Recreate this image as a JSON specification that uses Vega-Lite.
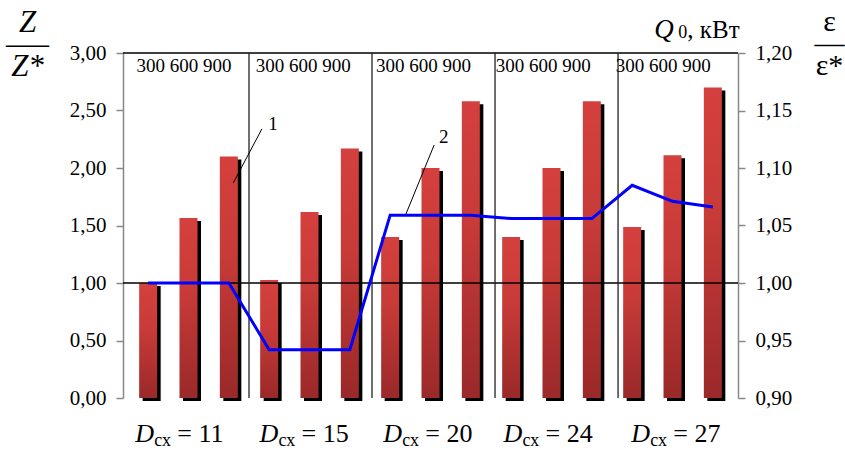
{
  "$schema": "https://vega.github.io/schema/vega-lite/v6.json",
  "width": 615,
  "height": 345,
  "autosize": "none",
  "padding": {"left": 123, "top": 53, "right": 107, "bottom": 52},
  "background": "white",
  "config": {"view": {"stroke": null}, "font": "Liberation Serif", "axis": {"grid": false}},
  "datasets": {
    "bars": [
      {"n": 1, "D": 11, "Q": 300, "Z": 1.0, "eps": 1.0},
      {"n": 2, "D": 11, "Q": 600, "Z": 1.565, "eps": 1.0},
      {"n": 3, "D": 11, "Q": 900, "Z": 2.1, "eps": 1.0},
      {"n": 4, "D": 15, "Q": 300, "Z": 1.026, "eps": 0.942},
      {"n": 5, "D": 15, "Q": 600, "Z": 1.617, "eps": 0.942},
      {"n": 6, "D": 15, "Q": 900, "Z": 2.17, "eps": 0.942},
      {"n": 7, "D": 20, "Q": 300, "Z": 1.4, "eps": 1.059},
      {"n": 8, "D": 20, "Q": 600, "Z": 2.0, "eps": 1.059},
      {"n": 9, "D": 20, "Q": 900, "Z": 2.58, "eps": 1.059},
      {"n": 10, "D": 24, "Q": 300, "Z": 1.4, "eps": 1.056},
      {"n": 11, "D": 24, "Q": 600, "Z": 2.0, "eps": 1.056},
      {"n": 12, "D": 24, "Q": 900, "Z": 2.58, "eps": 1.056},
      {"n": 13, "D": 27, "Q": 300, "Z": 1.487, "eps": 1.085},
      {"n": 14, "D": 27, "Q": 600, "Z": 2.11, "eps": 1.071},
      {"n": 15, "D": 27, "Q": 900, "Z": 2.7, "eps": 1.066}
    ],
    "groups": [
      {"D": "11", "eq": "= 11", "t": 0.71, "l": 0.68},
      {"D": "15", "eq": "= 15", "t": 3.67, "l": 3.76},
      {"D": "20", "eq": "= 20", "t": 6.65, "l": 6.83},
      {"D": "24", "eq": "= 24", "t": 9.62, "l": 9.81},
      {"D": "27", "eq": "= 27", "t": 12.59, "l": 12.98}
    ],
    "sep": [{"s": 3.5}, {"s": 6.55}, {"s": 9.6}, {"s": 12.65}],
    "hlines": [{"h": 1, "w": 1.3}, {"h": 3, "w": 1.5}],
    "leaders": [
      {"k": "1", "x": 3.11, "y": 1.87, "x2": 3.82, "y2": 2.34, "tx": 3.98, "ty": 2.33},
      {"k": "2", "x": 7.38, "y": 1.59, "x2": 8.09, "y2": 2.2, "tx": 8.21, "ty": 2.217}
    ],
    "unit": [{"q": "Q", "sub": "0", "u": ", кВт", "x": 13.55, "y": 3.13}]
  },
  "layer": [
    {
      "data": {"name": "bars"},
      "mark": {"type": "bar", "width": 18, "color": "black", "xOffset": 3.5, "yOffset": 3},
      "encoding": {
        "x": {"field": "n", "type": "quantitative", "scale": {"domain": [0.5, 15.5], "nice": false, "zero": false},
          "axis": {"title": null, "labels": false, "ticks": false, "domainColor": "#888", "domainWidth": 1.5, "grid": false}},
        "y": {"field": "Z", "type": "quantitative", "scale": {"domain": [0, 3], "nice": false},
          "axis": {"orient": "left", "values": [0, 0.5, 1, 1.5, 2, 2.5, 3],
            "labelExpr": "replace(format(datum.value, '.2f'), '.', ',')",
            "labelFontSize": 21, "labelColor": "black", "labelPadding": 10,
            "domainColor": "#888", "domainWidth": 1.5, "tickColor": "#888", "tickSize": 7, "tickWidth": 1.5,
            "title": ["Z", "—–", "Z*"], "titleAngle": 0, "titleAlign": "center", "titleBaseline": "alphabetic",
            "titleX": -96, "titleY": -22, "titleFontStyle": "italic",
            "titleFontWeight": "normal", "titleFontSize": 31, "titleLineHeight": 22, "titleColor": "black"}}
      }
    },
    {
      "data": {"name": "bars"},
      "mark": {"type": "bar", "width": 18,
        "color": {"gradient": "linear", "x1": 0, "y1": 0, "x2": 0, "y2": 1,
          "stops": [{"offset": 0, "color": "#D4403D"}, {"offset": 0.4, "color": "#C83B38"}, {"offset": 1, "color": "#9A2929"}]}},
      "encoding": {
        "x": {"field": "n", "type": "quantitative", "axis": null},
        "y": {"field": "Z", "type": "quantitative", "scale": {"domain": [0, 3], "nice": false}, "axis": null}
      }
    },
    {
      "data": {"name": "hlines"},
      "mark": {"type": "rule", "color": "black"},
      "encoding": {
        "y": {"field": "h", "type": "quantitative", "scale": {"domain": [0, 3], "nice": false}, "axis": null},
        "strokeWidth": {"field": "w", "type": "quantitative", "scale": null, "legend": null}
      }
    },
    {
      "data": {"name": "sep"},
      "mark": {"type": "rule", "color": "#222", "strokeWidth": 1.3},
      "encoding": {"x": {"field": "s", "type": "quantitative", "axis": null}}
    },
    {
      "data": {"name": "groups"},
      "mark": {"type": "text", "align": "left", "baseline": "alphabetic", "fontSize": 19, "color": "black"},
      "encoding": {
        "x": {"field": "t", "type": "quantitative", "axis": null},
        "y": {"datum": 2.837, "type": "quantitative", "scale": {"domain": [0, 3], "nice": false}, "axis": null},
        "text": {"value": "300 600 900"}
      }
    },
    {
      "data": {"name": "groups"},
      "mark": {"type": "text", "align": "left", "baseline": "alphabetic", "fontSize": 26, "fontStyle": "italic", "color": "black"},
      "encoding": {
        "x": {"field": "l", "type": "quantitative", "axis": null},
        "y": {"datum": -0.383, "type": "quantitative", "scale": {"domain": [0, 3], "nice": false}, "axis": null},
        "text": {"value": "D"}
      }
    },
    {
      "data": {"name": "groups"},
      "mark": {"type": "text", "align": "left", "baseline": "alphabetic", "fontSize": 18, "dx": 19, "dy": 4, "color": "black"},
      "encoding": {
        "x": {"field": "l", "type": "quantitative", "axis": null},
        "y": {"datum": -0.383, "type": "quantitative", "scale": {"domain": [0, 3], "nice": false}, "axis": null},
        "text": {"value": "сх"}
      }
    },
    {
      "data": {"name": "groups"},
      "mark": {"type": "text", "align": "left", "baseline": "alphabetic", "fontSize": 26, "dx": 42, "color": "black"},
      "encoding": {
        "x": {"field": "l", "type": "quantitative", "axis": null},
        "y": {"datum": -0.383, "type": "quantitative", "scale": {"domain": [0, 3], "nice": false}, "axis": null},
        "text": {"field": "eq"}
      }
    },
    {
      "data": {"name": "leaders"},
      "mark": {"type": "rule", "color": "black", "strokeWidth": 1},
      "encoding": {
        "x": {"field": "x", "type": "quantitative", "axis": null},
        "x2": {"field": "x2"},
        "y": {"field": "y", "type": "quantitative", "scale": {"domain": [0, 3], "nice": false}, "axis": null},
        "y2": {"field": "y2"}
      }
    },
    {
      "data": {"name": "leaders"},
      "mark": {"type": "text", "align": "left", "baseline": "alphabetic", "fontSize": 19, "color": "black"},
      "encoding": {
        "x": {"field": "tx", "type": "quantitative", "axis": null},
        "y": {"field": "ty", "type": "quantitative", "scale": {"domain": [0, 3], "nice": false}, "axis": null},
        "text": {"field": "k"}
      }
    },
    {
      "data": {"name": "unit"},
      "mark": {"type": "text", "align": "left", "baseline": "alphabetic", "fontSize": 27, "fontStyle": "italic", "color": "black"},
      "encoding": {
        "x": {"field": "x", "type": "quantitative", "axis": null},
        "y": {"field": "y", "type": "quantitative", "scale": {"domain": [0, 3], "nice": false}, "axis": null},
        "text": {"field": "q"}
      }
    },
    {
      "data": {"name": "unit"},
      "mark": {"type": "text", "align": "left", "baseline": "alphabetic", "fontSize": 18, "dx": 24, "color": "black"},
      "encoding": {
        "x": {"field": "x", "type": "quantitative", "axis": null},
        "y": {"field": "y", "type": "quantitative", "scale": {"domain": [0, 3], "nice": false}, "axis": null},
        "text": {"field": "sub"}
      }
    },
    {
      "data": {"name": "unit"},
      "mark": {"type": "text", "align": "left", "baseline": "alphabetic", "fontSize": 25, "dx": 33, "color": "black"},
      "encoding": {
        "x": {"field": "x", "type": "quantitative", "axis": null},
        "y": {"field": "y", "type": "quantitative", "scale": {"domain": [0, 3], "nice": false}, "axis": null},
        "text": {"field": "u"}
      }
    },
    {
      "data": {"name": "bars"},
      "mark": {"type": "line", "color": "#0000FF", "strokeWidth": 3},
      "encoding": {
        "x": {"field": "n", "type": "quantitative", "axis": null},
        "y": {"field": "eps", "type": "quantitative", "scale": {"domain": [0.9, 1.2], "nice": false, "zero": false},
          "axis": {"orient": "right", "values": [0.9, 0.95, 1.0, 1.05, 1.1, 1.15, 1.2],
            "labelExpr": "replace(format(datum.value, '.2f'), '.', ',')",
            "labelFontSize": 21, "labelColor": "black", "labelPadding": 10,
            "domainColor": "#888", "domainWidth": 1.5, "tickColor": "#888", "tickSize": 7, "tickWidth": 1.5,
            "title": ["ε", "—", "ε*"], "titleAngle": 0, "titleAlign": "center", "titleBaseline": "alphabetic",
            "titleX": 91, "titleY": -23, "titleFontWeight": "normal",
            "titleFontSize": 30, "titleLineHeight": 22, "titleColor": "black"}}
      }
    }
  ],
  "resolve": {"scale": {"y": "independent"}}
}
